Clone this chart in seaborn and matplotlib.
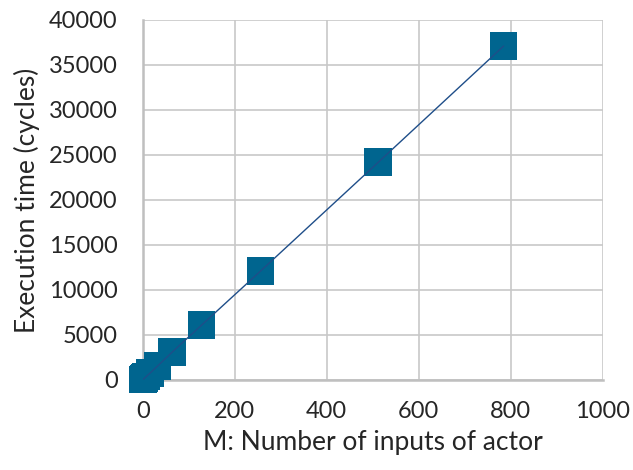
import pandas as pd
import matplotlib
matplotlib.use("Agg")
import matplotlib.pyplot as plt
import seaborn as sns

# Number of inputs vs execution time
inputs = [1, 2, 4, 8, 16, 32, 64, 128, 256, 512, 784]
cycles = [60, 110, 200, 390, 770, 1530, 3100, 6100, 12100, 24200, 37100]
x_ticks = [0, 200, 400, 600, 800, 1000]
y_ticks = [0, 5000, 10000, 15000, 20000, 25000, 30000, 35000, 40000]

df = pd.DataFrame({"inputs": inputs, "cycles": cycles})

sns.set_style("white")
plt.rcParams['font.family'] = ['Lato', 'DejaVu Sans']

fig = plt.figure(figsize=(6.33, 4.70), dpi=100)
ax = fig.add_axes([0.2254, 0.1915, 0.7272, 0.766])

# squares first, thin line on top
sns.scatterplot(data=df, x="inputs", y="cycles", marker="s", s=400,
                color="#00658F", edgecolor="none", linewidth=0, ax=ax,
                zorder=3, clip_on=False)
sns.lineplot(data=df, x="inputs", y="cycles", color="#1F4E89", linewidth=1,
             ax=ax, zorder=4)

ax.set_xlim(0, 1000)
ax.set_ylim(0, 40000)
ax.set_xticks(x_ticks)
ax.set_yticks(y_ticks)
ax.grid(True, color="#C8C8C8", linewidth=1.2)
ax.set_axisbelow(True)
for side in ["top", "right"]:
    ax.spines[side].set_visible(False)
for side in ["left", "bottom"]:
    ax.spines[side].set_color("#BFBFBF")
    ax.spines[side].set_linewidth(1.8)
ax.tick_params(axis="both", labelsize=17, length=0)
ax.tick_params(axis="y", pad=18)
ax.tick_params(axis="x", pad=15)
ax.set_xlabel("M: Number of inputs of actor", fontsize=19, labelpad=6)
ax.set_ylabel("Execution time (cycles)", fontsize=19, labelpad=6)

fig.savefig("out.png", dpi=100)
